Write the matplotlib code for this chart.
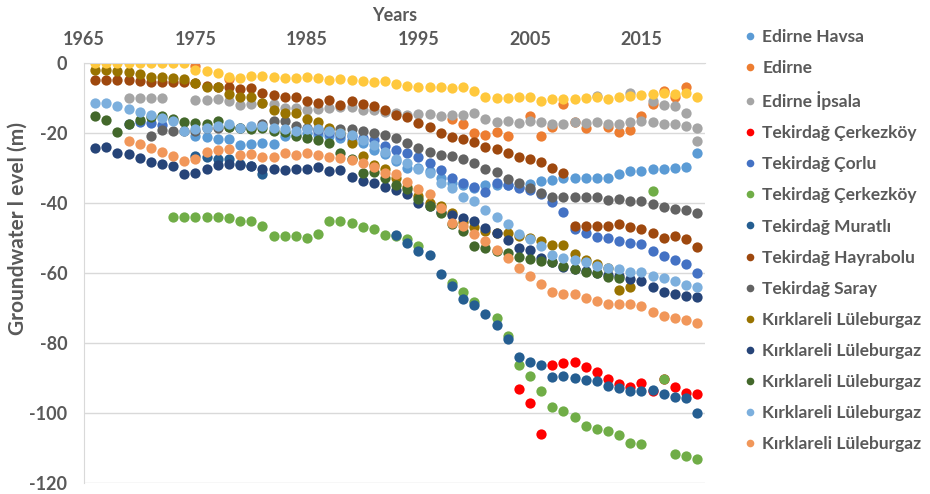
import numpy as np
import matplotlib.pyplot as plt
from matplotlib.lines import Line2D

n = np.nan
years = np.arange(1966, 2021)

# groundwater levels (m), one value per year 1966..2020
yellow = [0, 0, 0, 0, 0, 0, 0, 0, 0, -2.0,
          -2.2, -2.9, -3.9, -4.4, -3.7, -3.7, -3.9, -4.2, -4.3, -3.9,
          -4.4, -4.9, -4.7, -5.0, -5.2, -5.3, -5.2, -6.0, -6.5, -6.8,
          -6.9, -7.0, -7.2, -7.0, -7.9, -9.6, -10.1, -10.1, -9.6, -9.6,
          -10.8, -10.4, -10.3, -10.3, -10.1, -9.8, -10.4, -9.8, -9.3, -9.1,
          -8.9, -8.7, -8.9, -8.7, -9.6]
edirne = [n, n, n, n, n, n, n, n, n, -1.0,
          n, n, -4.5, n, n, n, n, n, n, n,
          n, n, n, n, n, n, n, n, n, n,
          n, n, -16.0, -17.5, -20.1, -20.6, -19.8, -20.8, n, -15.1,
          -20.8, -18.3, -11.8, -16.9, -18.6, n, -18.2, -19.7, -19.1, -15.1,
          -11.6, -7.9, -9.6, -6.9, n]
ipsala = [n, n, n, -10.0, -10.0, -10.0, -10.0, n, n, -10.6,
          -10.6, -10.4, -10.9, -12.0, -11.7, -11.5, -11.8, -12.9, -12.9, -13.4,
          -13.1, -12.8, -12.5, -12.5, -13.4, -13.4, -14.1, -14.4, -15.0, -14.7,
          -14.7, -15.1, -14.9, -15.0, -14.4, -16.1, -16.8, -16.6, -17.2, -16.6,
          -16.8, -17.4, -17.4, -17.0, -17.2, -17.0, -17.4, -17.4, -17.0, -16.5,
          -16.8, -17.4, -17.4, -18.0, -18.5]
ipsala_b = [n] * 45 + [-9.4, n, n, -8.6, n, -10.9, -12.1, -12.3, -14.3, -22.3]
cerkezkoy_red = [n] * 38 + [-93.2, -97.0, -106.0, -86.3, -85.6, -85.3, -86.8, -88.2,
                            -90.4, -91.6, -92.5, -91.3, -93.8, -90.4, -92.7, -94.4, -94.7]
corlu = [n, n, n, -17.5, -17.0, -17.2, -17.8, n, n, n,
         n, n, n, n, n, n, n, n, n, n,
         -19.5, -20.0, -20.5, -21.0, -21.5, -21.9, -23.6, -24.9, -25.7, -26.9,
         -28.6, -30.6, -32.9, -34.4, -35.4, -36.8, -34.2, -35.0, -35.6, -36.2,
         -37.5, -39.6, -42.7, -47.5, -48.5, -49.6, -50.1, -50.9, -51.4, -51.8,
         -53.8, -55.2, -56.2, -57.5, -60.0]
cerkezkoy_green = [n, n, n, n, n, n, n, -44.1, -44.1, -44.1,
                   -44.1, -44.1, -44.4, -45.1, -45.2, -46.6, -49.3, -49.3, -49.3, -50.1,
                   -48.9, -45.1, -45.1, -45.8, -46.9, -47.5, -49.1, -49.5, -50.3, -52.3,
                   n, n, -62.9, -65.3, -68.4, n, -73.0, -78.0, -86.3, -89.4,
                   -93.7, -98.4, -99.3, -101.2, -103.8, -104.5, -105.0, -106.4, -108.5, -108.8,
                   -36.6, -90.4, -111.7, -112.2, -113.1]
muratli = [n, n, n, n, n, n, n, n, n, -26.5,
           -27.0, -27.3, -27.5, -28.8, -29.3, -31.8, n, n, n, n,
           n, n, n, n, n, n, n, -49.1, -51.5, -53.7,
           -54.9, -60.3, -63.7, -67.4, -69.2, -71.7, -75.0, -78.9, -83.9, -85.3,
           -86.3, -89.6, -89.4, -89.9, -90.6, -91.0, -92.3, -93.0, -93.8, -93.8,
           -93.5, -94.6, -95.4, -95.6, -100.0]
hayrabolu = [-4.9, -4.9, -4.9, -5.0, -5.1, -5.3, -5.3, -5.3, -5.5, -5.8,
             -6.5, -7.0, -6.9, -7.4, -7.2, -8.5, -9.1, -9.6, -9.6, -11.0,
             -11.3, -10.6, -12.0, -11.0, -11.8, -12.2, -13.4, -14.9, -15.3, -17.2,
             -18.4, -20.1, -21.1, -21.7, -22.7, -23.9, -24.7, -25.7, -26.8, -27.5,
             -28.3, -30.1, -31.4, -46.6, -46.6, -46.6, -46.6, -46.1, -46.8, -47.3,
             -48.7, -49.9, -49.5, -50.2, -52.5]
saray = [n, n, n, n, n, -20.9, -19.1, -19.5, -19.5, -19.3,
         -18.7, -18.7, -18.2, -18.5, -18.5, -17.5, -16.6, -16.6, -18.0, -18.5,
         -19.0, -19.0, -18.8, -18.9, -19.5, -20.0, -20.7, -21.3, -23.0, -24.3,
         -25.5, -26.2, -26.6, -27.4, -28.7, -30.2, -31.2, -33.1, -34.3, -35.6,
         -37.2, -38.4, -38.4, -38.4, -38.4, -38.4, -39.2, -39.0, -39.3, -39.3,
         -40.4, -41.2, -41.8, -42.0, -42.9]
lule_1 = [-2.0, -2.0, -2.3, -2.7, -3.1, -3.9, -4.1, -4.2, -4.6, -5.8,
          -6.8, -6.9, -8.9, -9.8, -9.6, -11.5, -13.4, -14.4, -14.4, -16.0,
          -17.0, -18.5, -20.0, -22.9, -26.5, -29.1, -30.4, -33.0, -35.5, -38.0,
          -40.0, -40.8, -43.0, -45.5, -47.0, -48.0, -48.5, -48.7, -49.4, -50.0,
          -51.0, -52.1, -52.1, -54.7, -56.4, -57.3, -58.5, -65.0, -63.9, n,
          n, n, n, n, n]
lule_2 = [-24.4, -24.1, -25.6, -26.1, -27.1, -28.3, -29.0, -29.5, -31.8, -31.3,
          -30.2, -29.2, -29.0, -29.2, -29.4, -30.2, -30.4, -30.7, -30.4, -30.4,
          -29.7, -31.0, -30.6, -32.7, -33.7, -34.2, -35.3, -36.3, -37.4, -39.9,
          -41.0, -42.5, -43.4, -44.2, -45.1, -47.2, -48.5, -50.6, -52.8, -53.5,
          -55.6, -56.8, -58.2, -58.8, -59.5, -60.0, -60.5, -61.0, -61.8, -62.2,
          -63.9, -65.3, -66.0, -66.6, -66.9]
lule_3 = [-15.1, -16.3, -19.8, -17.5, -16.3, -15.5, -15.1, -16.0, -16.8, -17.2,
          -17.5, -16.6, -18.4, -18.7, -19.0, -18.7, -19.4, -19.6, -20.8, -21.3,
          -22.0, -22.9, -25.8, -27.5, -31.5, -31.2, -33.0, -34.9, -36.1, -38.9,
          -40.8, -43.0, -46.0, -48.0, -52.3, -53.0, -53.8, -54.4, -55.3, -56.1,
          -56.6, -56.9, -58.0, -58.9, -59.6, -60.1, -61.2, -61.5, n, n,
          n, n, n, n, n]
lule_4 = [-11.5, -11.5, -12.3, -13.2, -13.9, -14.9, -15.7, -16.7, -19.3, -19.0,
          -18.5, -18.0, -17.5, -18.5, -18.0, -18.0, -18.5, -19.0, -19.5, -19.0,
          -19.0, -19.5, -20.0, -20.5, -22.0, -23.5, -25.3, -27.3, -28.5, -30.4,
          -31.5, -34.4, -35.8, -38.2, -39.4, -42.0, -44.0, -46.0, -49.0, -50.3,
          -52.2, -54.8, -55.7, -56.2, -56.9, -58.0, -58.7, -59.0, -59.6, -59.8,
          -60.8, -61.5, -62.2, -63.4, -64.0]
lule_5 = [n, n, n, -22.4, -23.1, -24.4, -25.3, -26.7, -28.1, -27.4,
          -25.3, -24.9, -24.7, -26.2, -25.9, -26.9, -26.9, -25.6, -26.2, -25.6,
          -26.2, -26.8, -27.1, -27.8, -28.5, -29.7, -31.5, -31.8, -34.0, -35.9,
          -37.5, -41.5, -45.7, -46.5, -48.9, -50.8, -53.3, -55.7, -58.6, -60.8,
          -63.1, -65.5, -65.9, -66.0, -67.1, -67.9, -68.9, -69.0, -69.0, -69.3,
          -71.2, -72.2, -72.8, -73.5, -74.4]
havsa = [n, n, n, n, n, n, n, n, n, -21.0,
         -21.2, -21.7, -21.8, -23.4, -23.1, -22.9, -23.2, -21.0, -20.5, -20.0,
         -20.5, -21.0, -21.5, -22.0, -23.0, -25.0, -26.0, -28.0, -30.0, -30.0,
         -31.0, -33.0, -34.4, -35.0, -35.6, -35.0, -35.0, -35.0, -35.5, -34.5,
         -33.7, -33.4, -32.9, -32.9, -32.9, -32.9, -32.9, -31.8, -31.0, -31.0,
         -30.3, -30.3, -30.0, -29.7, -25.8]

labels = ['Edirne Havsa', 'Edirne', 'Edirne İpsala', 'Tekirdağ Çerkezköy', 'Tekirdağ Çorlu',
          'Tekirdağ Çerkezköy', 'Tekirdağ Muratlı', 'Tekirdağ Hayrabolu', 'Tekirdağ Saray',
          'Kırklareli Lüleburgaz', 'Kırklareli Lüleburgaz', 'Kırklareli Lüleburgaz',
          'Kırklareli Lüleburgaz', 'Kırklareli Lüleburgaz']
series = [havsa, edirne, ipsala, cerkezkoy_red, corlu, cerkezkoy_green, muratli,
          hayrabolu, saray, lule_1, lule_2, lule_3, lule_4, lule_5]
colors = ['#5B9BD5', '#ED7D31', '#A5A5A5', '#FF0000', '#4472C4', '#70AD47', '#255E91',
          '#9E480E', '#636363', '#997300', '#264478', '#43682B', '#7CAFDD', '#F1975A']

txt = '#595959'
plt.rcParams['font.family'] = ['Lato', 'DejaVu Sans']
plt.rcParams['font.weight'] = 'bold'
plt.rcParams['axes.unicode_minus'] = False

fig = plt.figure(figsize=(9.3, 4.94), dpi=100)
ax = fig.add_axes([84/930, 1-483/494, (705-84)/930, (483-63)/494])

for vals, c in zip(series, colors):
    ax.plot(years, vals, 'o', color=c, ms=7.4, mew=0)
ax.plot(years, ipsala_b, 'o', color=colors[2], ms=7.4, mew=0)
ax.plot(years, yellow, 'o', color='#FFC83D', ms=7.4, mew=0)

ax.set_xlim(1965, 2020.7)
ax.set_ylim(-120, 0)
ax.set_xticks(range(1965, 2016, 10))
ax.set_yticks(range(-120, 1, 20))
ax.xaxis.tick_top()
ax.xaxis.set_label_position('top')
ax.tick_params(length=0, labelsize=13, labelcolor=txt)
for t in ax.get_xticklabels() + ax.get_yticklabels():
    t.set_fontweight('bold')
ax.tick_params(axis='x', pad=11)
ax.tick_params(axis='y', pad=12)
ax.grid(axis='y', color='#D9D9D9', lw=1)
ax.set_axisbelow(True)
for s in ['right', 'bottom']:
    ax.spines[s].set_visible(False)
for s in ['top', 'left']:
    ax.spines[s].set_color('#D9D9D9')
ax.set_xlabel('Years', fontsize=13, fontweight='bold', color=txt, labelpad=7)
ax.set_ylabel('Groundwater l evel (m)', fontsize=15, fontweight='bold', color=txt)
ax.yaxis.set_label_coords(-0.09, 0.605)

handles = [Line2D([], [], ls='', marker='o', ms=5.5, mew=0, color=c) for c in colors]
leg = fig.legend(handles, labels, loc='upper left', bbox_to_anchor=(739/930, 1-22/494),
                 frameon=False, fontsize=12.5, labelcolor=txt, handlelength=0.5,
                 handletextpad=0.45, labelspacing=0.87, borderaxespad=0)
for t in leg.get_texts():
    t.set_fontweight('bold')

fig.savefig('out.png', dpi=100)
